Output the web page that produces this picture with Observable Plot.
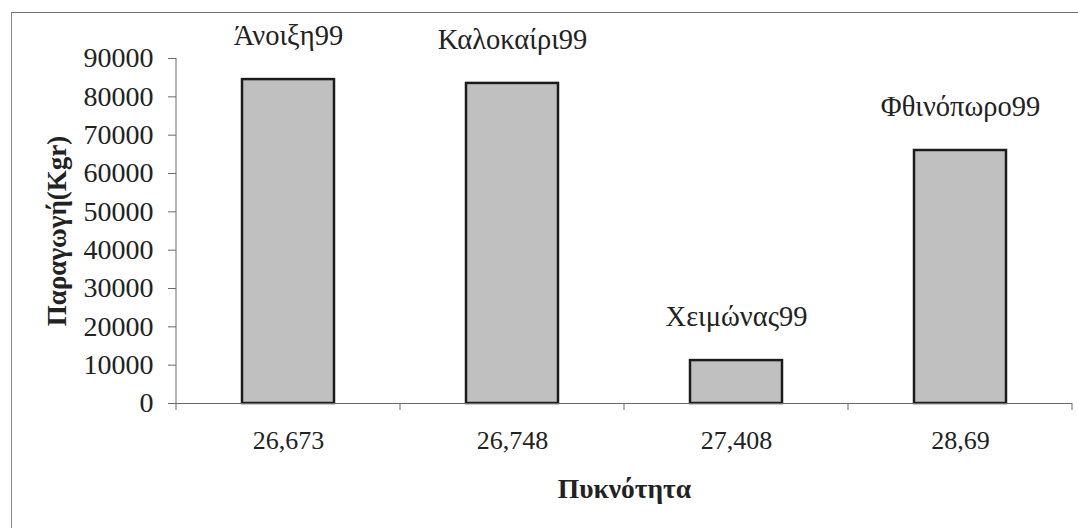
<!DOCTYPE html>
<html>
<head>
<meta charset="utf-8">
<script src="https://cdn.jsdelivr.net/npm/d3@7"></script>
<script src="https://cdn.jsdelivr.net/npm/@observablehq/plot@0.6"></script>
<style>
  html, body { margin: 0; padding: 0; background: #fff; }
  #wrap { position: relative; width: 1078px; height: 528px; overflow: hidden; }
  #edge { position: absolute; left: 11px; top: 12px; width: 2000px; height: 2000px;
          border-top: 1.5px solid #6f6f6f; border-left: 1.5px solid #8a8a8a; box-sizing: border-box; }
  #chart { position: absolute; left: 0; top: 0; }
  #chart svg, #chart svg text { font-family: "Liberation Serif", "Times New Roman", serif !important; }
</style>
</head>
<body>
<div id="wrap"><div id="edge"></div><div id="chart"></div></div>
<script>
// Density categories (x), season of each bar and its production in Kgr
const densities = ["26,673", "26,748", "27,408", "28,69"];
const seasons = ["Άνοιξη99", "Καλοκαίρι99", "Χειμώνας99", "Φθινόπωρο99"];
const production = [84500, 83500, 11200, 66000];
const yTicks = [0, 10000, 20000, 30000, 40000, 50000, 60000, 70000, 80000, 90000];

const rows = densities.map((d, i) => ({density: d, season: seasons[i], production: production[i]}));

const font = "Liberation Serif, Times New Roman, serif";
const ink = "#222";

// Axis line on the left plus small ticks on the category boundaries
function frameLines(index, scales, values, dim) {
  const x = scales.x;
  const bw = typeof x.bandwidth === "function" ? x.bandwidth() : x.bandwidth;
  const step = typeof x.step === "function" ? x.step() : x.step;
  const bottom = dim.height - dim.marginBottom;
  const g = d3.create("svg:g").attr("stroke", "#6a6a6a").attr("fill", "none");
  g.append("line")
    .attr("x1", dim.marginLeft).attr("x2", dim.marginLeft)
    .attr("y1", dim.marginTop).attr("y2", bottom);
  const edges = densities.map(c => x(c) + bw / 2 - step / 2);
  edges.push(x(densities[densities.length - 1]) + bw / 2 + step / 2);
  for (const e of edges) {
    g.append("line").attr("x1", e).attr("x2", e).attr("y1", bottom).attr("y2", bottom + 7);
  }
  return g.node();
}

const chart = Plot.plot({
  width: 1078,
  height: 528,
  marginLeft: 176,
  marginRight: 6,
  marginTop: 58,
  marginBottom: 125,
  style: {fontFamily: font, fontSize: "26px", color: ink, background: "transparent"},
  x: {type: "band", domain: densities, paddingInner: 0.59, paddingOuter: 0.295},
  y: {domain: [0, 90000]},
  marks: [
    Plot.axisY({ticks: yTicks, tickSize: 8, tickPadding: 15, tickFormat: d => String(d),
                stroke: "#6a6a6a", fill: ink, fontSize: 28, fontFamily: font, label: null}),
    Plot.axisX({tickSize: 0, tickPadding: 27, fill: ink, fontSize: 26, fontFamily: font, label: null}),
    Plot.barY(rows, {x: "density", y: "production", fill: "#c0c0c0", stroke: "#1c1c1c", strokeWidth: 2.5}),
    Plot.ruleY([0], {stroke: "#6a6a6a"}),
    frameLines,
    Plot.text(rows, {x: "density", y: "production", text: "season", dy: -44,
                     fontSize: 28.5, fontFamily: font, fill: ink}),
    Plot.text(["Πυκνότητα"], {frameAnchor: "bottom", lineAnchor: "middle", dy: 86, fontSize: 27.5,
                               fontFamily: font, fontWeight: "bold", fill: ink}),
    Plot.text(["Παραγωγή(Kgr)"], {frameAnchor: "left", textAnchor: "middle", lineAnchor: "middle",
                                   dx: -119, rotate: -90, fontSize: 27,
                                   fontFamily: font, fontWeight: "bold", fill: ink})
  ]
});
document.getElementById("chart").append(chart);
</script>
</body>
</html>
